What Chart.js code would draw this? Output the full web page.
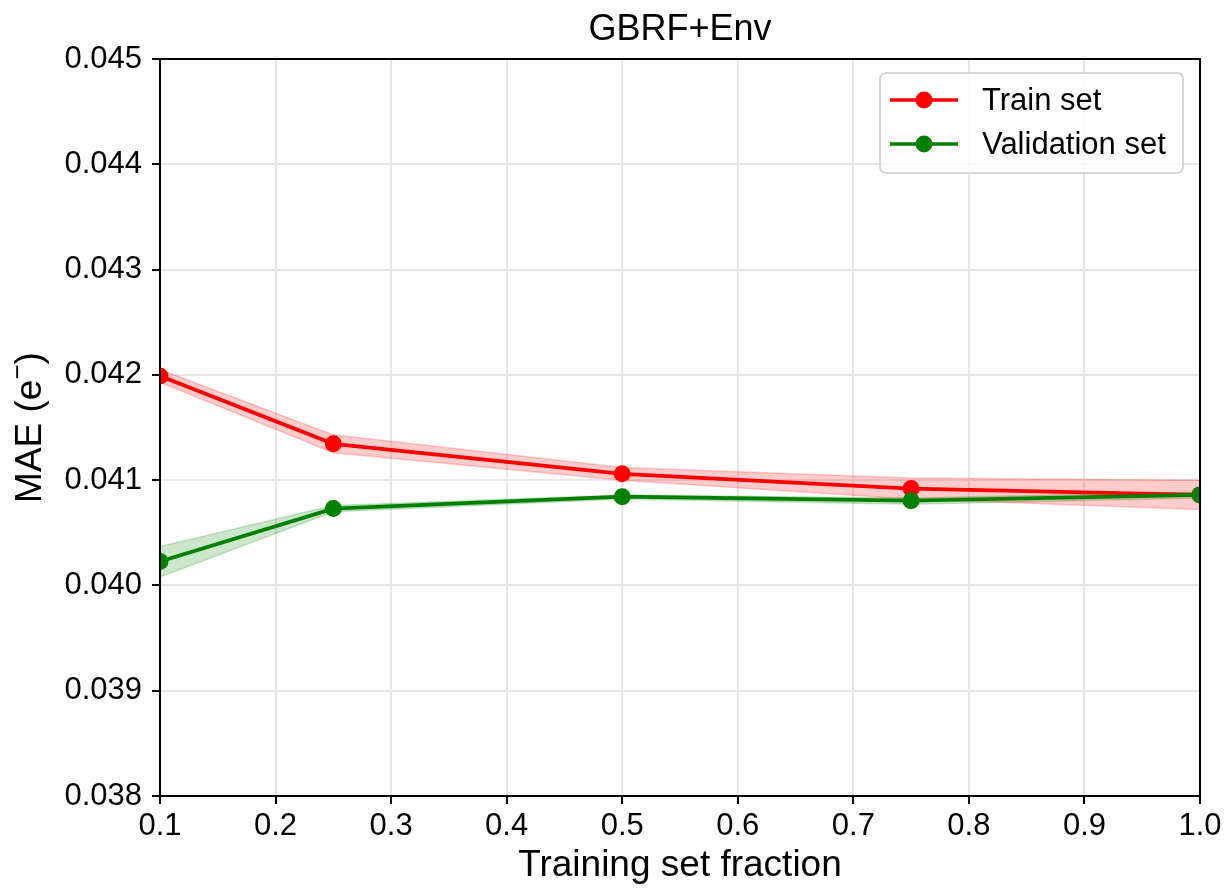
<!DOCTYPE html>
<html>
<head>
<meta charset="utf-8">
<script src="https://cdn.jsdelivr.net/npm/chart.js@4.4.1/dist/chart.umd.min.js"></script>
<style>
html,body{margin:0;padding:0;background:#fff;}
#wrap{width:1226px;height:890px;position:relative;}
</style>
</head>
<body>
<div id="wrap"><canvas id="c" width="1226" height="890"></canvas></div>
<script>
const fractions = [0.1, 0.25, 0.5, 0.75, 1.0];
const trainMAE = [0.04199, 0.041345, 0.04106, 0.04092, 0.04086];
const trainUpper = [0.04205, 0.04143, 0.04112, 0.04102, 0.04100];
const trainLower = [0.04193, 0.04126, 0.04100, 0.04082, 0.04072];
const valMAE = [0.040227, 0.04073, 0.040843, 0.040805, 0.04086];
const valUpper = [0.04037, 0.04076, 0.04086, 0.04083, 0.04089];
const valLower = [0.04008, 0.04070, 0.04082, 0.04077, 0.04083];
const seriesNames = ["Train set", "Validation set"];
const xTicks = [0.1, 0.2, 0.3, 0.4, 0.5, 0.6, 0.7, 0.8, 0.9, 1.0];
const yTicks = [0.038, 0.039, 0.040, 0.041, 0.042, 0.043, 0.044, 0.045];
const chartTitle = 'GBRF+Env';
const yTitleMain = 'MAE (e';
const yTitleSup = '\u2212';
const yTitleEnd = ')';

const FONT = "'Liberation Sans', Arial, sans-serif";
const pts = arr => fractions.map((x, i) => ({x: x, y: arr[i]}));

const frameAndLegend = {
  id: 'frameAndLegend',
  afterDraw(chart) {
    const ctx = chart.ctx, a = chart.chartArea;
    ctx.save();
    ctx.strokeStyle = '#000';
    ctx.lineWidth = 2;
    ctx.strokeRect(a.left, a.top, a.right - a.left, a.bottom - a.top);

    // title centred over plot area
    ctx.fillStyle = '#000';
    ctx.font = '36px ' + FONT;
    ctx.textAlign = 'center';
    ctx.textBaseline = 'middle';
    ctx.fillText(chartTitle, (a.left + a.right) / 2, 30);

    // y axis title with superscript
    ctx.save();
    ctx.translate(28, (a.top + a.bottom) / 2);
    ctx.rotate(-Math.PI / 2);
    ctx.fillStyle = '#000';
    ctx.textBaseline = 'alphabetic';
    ctx.textAlign = 'left';
    const big = '37px ' + FONT, small = '26px ' + FONT;
    ctx.font = big;
    const w1 = ctx.measureText(yTitleMain).width;
    const w3 = ctx.measureText(yTitleEnd).width;
    ctx.font = small;
    const w2 = ctx.measureText(yTitleSup).width;
    const total = w1 + w2 + w3;
    let x0 = -total / 2;
    const base = 13;
    ctx.font = big;
    ctx.fillText(yTitleMain, x0, base);
    ctx.font = small;
    ctx.fillText(yTitleSup, x0 + w1, base - 15);
    ctx.font = big;
    ctx.fillText(yTitleEnd, x0 + w1 + w2, base);
    ctx.restore();

    // legend
    const bx = 880, by = 73, bw = 303, bh = 100, r = 6;
    ctx.beginPath();
    ctx.moveTo(bx + r, by);
    ctx.arcTo(bx + bw, by, bx + bw, by + bh, r);
    ctx.arcTo(bx + bw, by + bh, bx, by + bh, r);
    ctx.arcTo(bx, by + bh, bx, by, r);
    ctx.arcTo(bx, by, bx + bw, by, r);
    ctx.closePath();
    ctx.fillStyle = 'rgba(255,255,255,0.8)';
    ctx.fill();
    ctx.strokeStyle = '#d6d6d6';
    ctx.lineWidth = 2;
    ctx.stroke();
    const items = [
      {name: seriesNames[0], color: '#ff0000', y: 100},
      {name: seriesNames[1], color: '#008000', y: 144}
    ];
    items.forEach(it => {
      ctx.strokeStyle = it.color;
      ctx.lineWidth = 3.5;
      ctx.beginPath();
      ctx.moveTo(890, it.y);
      ctx.lineTo(958, it.y);
      ctx.stroke();
      ctx.fillStyle = it.color;
      ctx.beginPath();
      ctx.arc(924, it.y, 8.5, 0, Math.PI * 2);
      ctx.fill();
      ctx.fillStyle = '#000';
      ctx.font = '31px ' + FONT;
      ctx.textBaseline = 'middle';
      ctx.textAlign = 'left';
      ctx.fillText(it.name, 982, it.y + 1);
    });
    ctx.restore();
  }
};

new Chart(document.getElementById('c'), {
  type: 'line',
  data: {
    datasets: [
      {label: seriesNames[1], data: pts(valMAE), borderColor: '#008000', backgroundColor: '#008000',
       borderWidth: 3.8, pointRadius: 8.5, pointHoverRadius: 8.5, pointBorderWidth: 0, fill: false, tension: 0},
      {label: seriesNames[0], data: pts(trainMAE), borderColor: '#ff0000', backgroundColor: '#ff0000',
       borderWidth: 3.8, pointRadius: 8.5, pointHoverRadius: 8.5, pointBorderWidth: 0, fill: false, tension: 0},
      {label: 'trainLower', data: pts(trainLower), borderColor: 'rgba(255,0,0,0.2)', borderWidth: 1.5,
       pointRadius: 0, fill: false, tension: 0},
      {label: 'trainUpper', data: pts(trainUpper), borderColor: 'rgba(255,0,0,0.2)', borderWidth: 1.5,
       pointRadius: 0, fill: {target: 2}, backgroundColor: 'rgba(255,0,0,0.2)', tension: 0},
      {label: 'valLower', data: pts(valLower), borderColor: 'rgba(0,128,0,0.2)', borderWidth: 1.5,
       pointRadius: 0, fill: false, tension: 0},
      {label: 'valUpper', data: pts(valUpper), borderColor: 'rgba(0,128,0,0.2)', borderWidth: 1.5,
       pointRadius: 0, fill: {target: 4}, backgroundColor: 'rgba(0,128,0,0.2)', tension: 0}
    ]
  },
  options: {
    responsive: false,
    animation: false,
    devicePixelRatio: 1,
    layout: {padding: {left: 0, right: 26, top: 59, bottom: 0}},
    plugins: {
      legend: {display: false},
      tooltip: {enabled: false},
      title: {display: false}
    },
    scales: {
      x: {
        type: 'linear', min: 0.1, max: 1.0,
        afterBuildTicks: s => { s.ticks = xTicks.map(v => ({value: v})); },
        afterFit: s => { s.height = 94; },
        ticks: {color: '#000', font: {family: FONT, size: 31}, padding: 4, maxRotation: 0,
                callback: v => v.toFixed(1)},
        grid: {color: '#e6e6e6', lineWidth: 2, tickColor: '#000', tickLength: 8, tickWidth: 2},
        border: {color: '#000', width: 2},
        title: {display: true, text: 'Training set fraction', color: '#000',
                font: {family: FONT, size: 37}, padding: {top: 0, bottom: 2}}
      },
      y: {
        type: 'linear', min: 0.038, max: 0.045,
        afterBuildTicks: s => { s.ticks = yTicks.map(v => ({value: v})); },
        afterFit: s => { s.width = 160; },
        ticks: {color: '#000', font: {family: FONT, size: 31}, padding: 10,
                callback: v => v.toFixed(3)},
        grid: {color: '#e6e6e6', lineWidth: 2, tickColor: '#000', tickLength: 8, tickWidth: 2},
        border: {color: '#000', width: 2},
        title: {display: false}
      }
    }
  },
  plugins: [frameAndLegend]
});
</script>
</body>
</html>
